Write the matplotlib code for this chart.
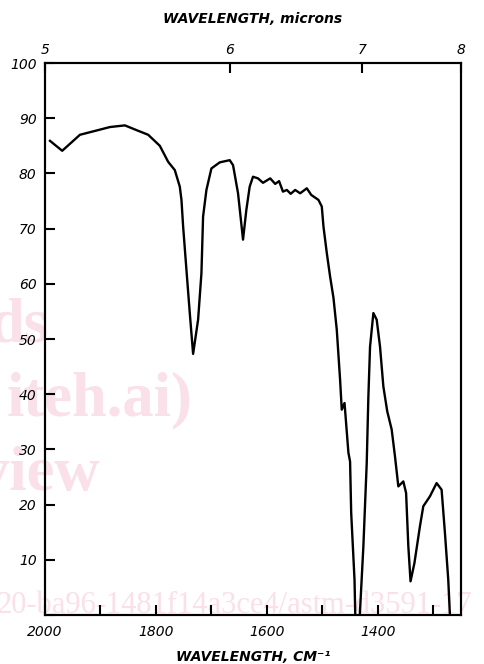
import matplotlib.pyplot as plt
import numpy as np

# IR trace: wavenumber (cm-1) and transmittance (%)
wavenumber = [1991, 1969, 1937, 1906, 1883, 1856, 1834, 1814, 1793, 1778,
              1766, 1757, 1754, 1751, 1745, 1739, 1733, 1724, 1718, 1715,
              1709, 1700, 1685, 1667, 1661, 1652, 1643, 1637, 1631, 1625,
              1616, 1607, 1594, 1585, 1578, 1571, 1564, 1557, 1549, 1540,
              1528, 1520, 1507, 1501, 1498, 1492, 1486, 1480, 1474, 1468,
              1465, 1460, 1453, 1450, 1448, 1442, 1440, 1434, 1426, 1420,
              1417, 1414, 1408, 1402, 1396, 1390, 1383, 1375, 1369, 1363,
              1354, 1349, 1345, 1341, 1334, 1324, 1318, 1306, 1294, 1285,
              1279, 1273, 1270]
transmittance = [85.9, 84.1, 87.0, 87.8, 88.4, 88.7, 87.8, 87.0, 85.0, 82.1,
                 80.6, 77.6, 75.2, 70.4, 62.5, 54.7, 47.3, 53.5, 61.9, 72.2,
                 77.0, 80.9, 82.0, 82.4, 81.5, 76.4, 68.0, 73.4, 77.6, 79.4,
                 79.1, 78.3, 79.1, 78.1, 78.6, 76.7, 77.0, 76.3, 77.0, 76.4,
                 77.3, 76.1, 75.2, 74.0, 70.4, 65.6, 61.3, 57.5, 51.7, 42.6,
                 37.2, 38.4, 29.4, 27.8, 18.5, 6.4, -3.0, -3.0, 12.5, 27.5,
                 39.6, 48.6, 54.7, 53.5, 48.6, 41.4, 36.9, 33.6, 28.7, 23.3,
                 24.2, 22.1, 12.5, 6.1, 9.4, 16.1, 19.7, 21.5, 23.9, 22.7,
                 14.9, 6.4, 0.0]

bottom_ticks = [2000, 1900, 1800, 1700, 1600, 1500, 1400, 1300]
bottom_labels = ["2000", "", "1800", "", "1600", "", "1400", ""]
microns = [5, 6, 7, 8]
y_ticks = [0, 10, 20, 30, 40, 50, 60, 70, 80, 90, 100]
y_labels = ["", "10", "20", "30", "40", "50", "60", "70", "80", "90", "100"]

# watermark fragments visible in the reference
wm_texts = ["ds", "iteh.ai)", "view"]
wm_right = [48, 192, 100]      # right edge, px
wm_base = [342, 415, 490]      # baseline, px
wm_line = "20-ba96-1481f14a3ce4/astm-d3591-17"

plt.rcParams['font.family'] = ['DejaVu Sans']

W, H = 484, 664
fig = plt.figure(figsize=(W / 100, H / 100), dpi=100)
ax = fig.add_axes([0.093, 0.0738, 0.8595, 0.8313])
ax.patch.set_alpha(0)

wm_color = "#fae0e8"
for t, xr, yb in zip(wm_texts, wm_right, wm_base):
    ax.text(xr / W, 1 - yb / H, t, fontsize=45, ha="right", va="baseline",
            color=wm_color, family="Liberation Serif", fontweight="bold",
            transform=fig.transFigure, zorder=0.5, clip_on=False)
ax.text(-3 / W, 1 - 613 / H, wm_line, fontsize=22, ha="left", va="baseline",
        color=wm_color, family="Liberation Serif",
        transform=fig.transFigure, zorder=0.5, clip_on=False)

ax.plot(wavenumber, transmittance, color="black", lw=1.7, zorder=2,
        solid_joinstyle="round")

ax.set_xlim(2000, 1250)
ax.set_ylim(0, 100)
for s in ax.spines.values():
    s.set_linewidth(1.5)

ax.set_xticks(bottom_ticks)
ax.set_xticklabels(bottom_labels, fontstyle="italic", fontsize=10)
ax.set_yticks(y_ticks)
ax.set_yticklabels(y_labels, fontstyle="italic", fontsize=10)
ax.tick_params(axis="both", direction="in", length=7, width=1.5, pad=6)
ax.tick_params(axis="x", pad=7)

ax2 = ax.twiny()
ax2.set_xlim(ax.get_xlim())
ax2.set_xticks([1e4 / m for m in microns])
ax2.set_xticklabels([str(m) for m in microns], fontstyle="italic", fontsize=10)
ax2.tick_params(axis="x", direction="in", length=7, width=1.5, pad=4)
for s in ax2.spines.values():
    s.set_linewidth(1.5)

ax2.set_xlabel("WAVELENGTH, microns", fontsize=10, fontweight="bold",
               fontstyle="italic", labelpad=15)
ax.set_xlabel("WAVELENGTH, CM\u207b\u00b9", fontsize=10, fontweight="bold",
              fontstyle="italic", labelpad=8)

fig.savefig("out.png", dpi=100)
